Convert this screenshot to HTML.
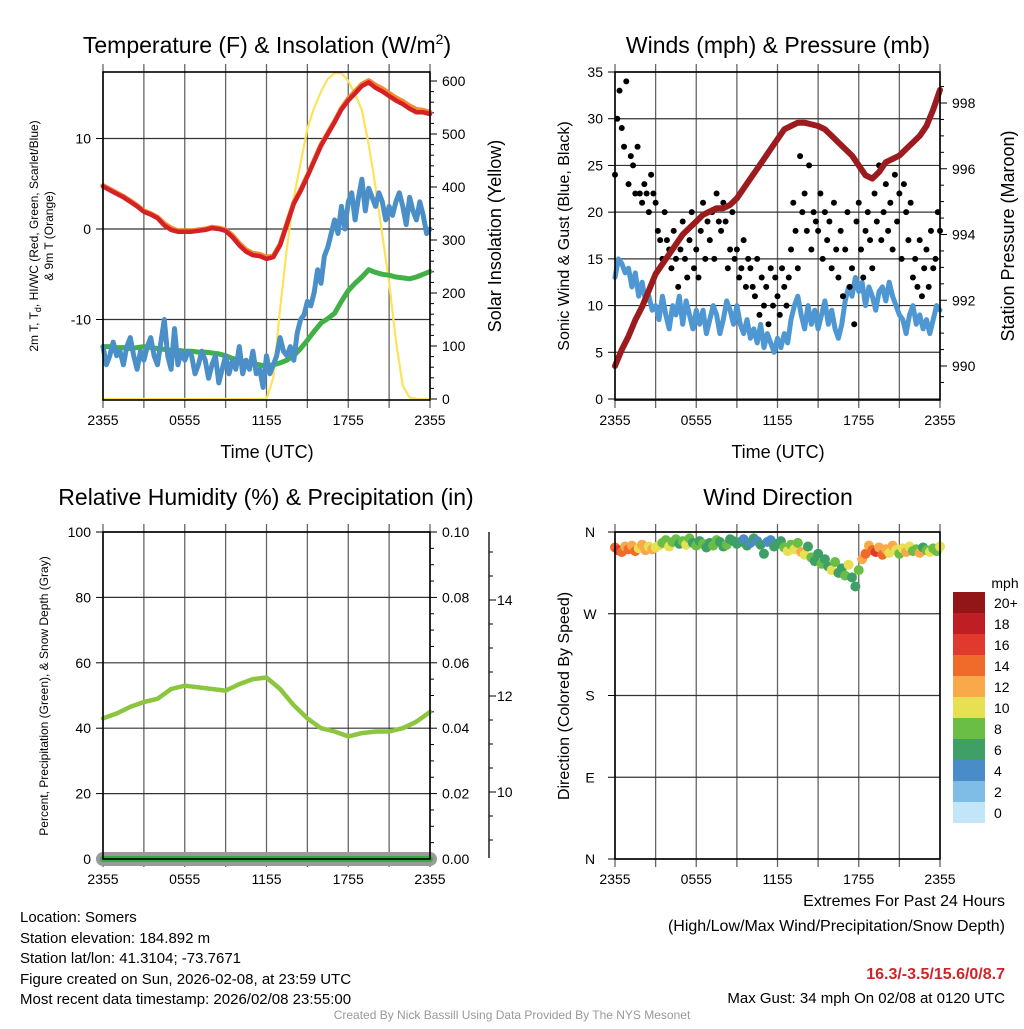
<!DOCTYPE html>
<html><head><meta charset="utf-8"><style>
html,body{margin:0;padding:0;background:#fff;}
svg text{font-family:"Liberation Sans",Arial,sans-serif;}
</style></head><body>
<svg id="fig" xmlns="http://www.w3.org/2000/svg" width="1024" height="1024" viewBox="0 0 1024 1024">
<rect width="1024" height="1024" fill="#fff"/>
<g font-size="23" text-anchor="middle" fill="#000">
<text x="267" y="53">Temperature (F) &amp; Insolation (W/m<tspan font-size="14" dy="-9">2</tspan><tspan dy="9">)</tspan></text>
<text x="778" y="53">Winds (mph) &amp; Pressure (mb)</text>
<text x="266" y="505">Relative Humidity (%) &amp; Precipitation (in)</text>
<text x="778" y="505">Wind Direction</text>
</g>
<g font-size="18" text-anchor="middle">
<text x="267" y="458">Time (UTC)</text>
<text x="778" y="458">Time (UTC)</text>
<text transform="translate(501,236) rotate(-90)">Solar Insolation (Yellow)</text>
<text transform="translate(1014,236) rotate(-90)">Station Pressure (Maroon)</text>
</g>
<g font-size="16" text-anchor="middle">
<text transform="translate(569,236) rotate(-90)">Sonic Wind &amp; Gust (Blue, Black)</text>
<text transform="translate(569,696) rotate(-90)">Direction (Colored By Speed)</text>
</g>
<g font-size="12" text-anchor="middle">
<text transform="translate(38,236) rotate(-90)">2m T, T<tspan font-size="9" dy="3">d</tspan><tspan dy="-3">, HI/WC (Red, Green, Scarlet/Blue)</tspan></text>
<text transform="translate(53,236) rotate(-90)">&amp; 9m T (Orange)</text>
<text transform="translate(48,696) rotate(-90)">Percent, Precipitation (Green), &amp; Snow Depth (Gray)</text>
</g>
<g id="layer"></g>
<g font-size="15" fill="#000">
<text x="20" y="922">Location: Somers</text>
<text x="20" y="943">Station elevation: 184.892 m</text>
<text x="20" y="963">Station lat/lon: 41.3104; -73.7671</text>
<text x="20" y="984">Figure created on Sun, 2026-02-08, at 23:59 UTC</text>
<text x="20" y="1004">Most recent data timestamp: 2026/02/08 23:55:00</text>
</g>
<g font-size="16" text-anchor="end">
<text x="1005" y="906">Extremes For Past 24 Hours</text>
<text x="1005" y="931">(High/Low/Max Wind/Precipitation/Snow Depth)</text>
<text x="1005" y="979" fill="#d2232a" font-weight="bold">16.3/-3.5/15.6/0/8.7</text>
<text x="1005" y="1003" font-size="15">Max Gust: 34 mph On 02/08 at 0120 UTC</text>
</g>
<text x="512" y="1019" font-size="12" fill="#999" text-anchor="middle">Created By Nick Bassill Using Data Provided By The NYS Mesonet</text>
</svg>
<script>
// ---------- DATA ----------
const xTickLabels=["2355","0555","1155","1755","2355"];
const tempRed=[4.7,4.3,3.9,3.5,3.0,2.5,1.9,1.6,1.2,0.4,-0.1,-0.3,-0.3,-0.3,-0.2,-0.1,0.1,0.0,-0.2,-0.9,-1.8,-2.5,-2.9,-3.0,-3.3,-3.1,-1.8,0.5,2.8,4.2,5.8,7.5,9.2,10.5,11.8,13.2,14.2,15.0,15.8,16.2,15.6,15.2,14.7,14.2,13.8,13.3,12.9,12.9,12.7];
const tempOrange=[4.8,4.4,4.0,3.6,3.1,2.6,2.0,1.7,1.3,0.6,0.1,-0.2,-0.2,-0.2,-0.1,0.0,0.2,0.1,-0.1,-0.7,-1.6,-2.3,-2.7,-2.8,-3.1,-3.0,-1.7,0.6,2.9,4.3,5.9,7.6,9.3,10.6,11.9,13.3,14.4,15.2,16.0,16.4,15.9,15.5,15.0,14.5,14.1,13.6,13.2,13.1,12.9];
const dewGreen=[-13.0,-13.0,-13.1,-13.1,-13.2,-13.1,-13.0,-13.1,-13.2,-13.3,-13.4,-13.4,-13.5,-13.5,-13.6,-13.6,-13.7,-13.8,-14.0,-14.3,-14.5,-14.7,-14.9,-15.0,-15.2,-15.0,-14.8,-14.5,-14.0,-13.2,-12.3,-11.3,-10.4,-9.9,-9.3,-8.0,-6.8,-6.0,-5.3,-4.5,-4.8,-5.0,-5.1,-5.3,-5.4,-5.5,-5.3,-5.0,-4.7];
const windChillBlue=[-13,-15,-14,-12.5,-14,-13.5,-15,-13,-12,-14,-15.5,-13.5,-14.5,
-13,-12,-14,-15,-12.5,-10,-14,-15.5,-11,-15,-13.5,-14.5,
-13.5,-14,-16,-15,-13.5,-14.5,-16.5,-15,-14,-17,-15.5,-14,
-16,-14.5,-15.5,-13,-16,-14.5,-15.5,-13.5,-16,-15.5,-17.5,-14,
-16,-15,-14,-12,-13.5,-14,-13,-14.5,-11.5,-10,-9.5,-8,
-8.5,-7,-4.5,-6,-3,-2,-0.5,1,-0.5,2.5,0,3,
4,1,3.5,5.5,2,4.5,3.5,2.5,4,3,1,2.5,
1.5,3,4,2.5,0.5,3.5,2,1,3,1.5,-0.5,0];
const solar=[0,0,0,0,0,0,0,0,0,0,0,0,0,0,0,0,0,0,0,0,0,0,0,0,0,40,170,285,380,445,510,550,580,604,615,615,600,575,545,480,400,310,220,110,25,3,0,0,0];
const windBlue=[13,15,14.5,13.5,14,12,13.5,11,12.5,10.5,11,9.5,10,
8.5,11,9,7.5,10,9,11,8,10.5,9,7.5,9.5,
8,9.5,7,8.5,10,9,7,8.5,10.5,9.5,8,10,
8,7,8.5,6.5,7.5,6,8,5.5,7,6,5,6.5,
5.5,7,6,8.5,10,11,9,7.5,10,8,9.5,7.5,
9,10.5,8,9.5,7.5,6.5,8,10.5,12,11,13,11.5,
12.5,10,12,11,9.5,11.5,12,10.5,12.5,11,10,9,
8.5,7,9,10,8,9,7.5,8.5,7,8.5,10,9.5];
const pressure=[990.0,990.5,990.9,991.4,991.8,992.3,992.8,993.1,993.4,993.7,994.0,994.2,994.4,994.6,994.7,994.8,994.8,994.9,995.1,995.4,995.7,996.0,996.3,996.6,996.9,997.2,997.3,997.4,997.4,997.35,997.3,997.2,997.0,996.8,996.6,996.4,996.1,995.8,995.7,995.9,996.2,996.3,996.4,996.6,996.8,997.0,997.3,997.8,998.4];
const gusts=[24,30,33,29,27,34, 23,26,25,22,27,22, 21,23,22,20,24,22, 21,18,17,15,20,17, 16,14,18,15,12,16, 19,15,13,17,20,14, 16,13,18,21,15,19, 17,20,15,22,19,18, 21,19,14,16,20,15, 16,13,14,17,12,15, 14,12,11,15,9,13, 10,12,8,14,10,13, 11,9,14,12,10,13, 16,21,18,14,26,20, 22,18,25,16,20,19, 18,22,15,20,17,19, 14,21,16,13,18,11, 16,20,12,14,8,19, 21,16,13,18,20,17, 14,22,19,25,17,20, 23,18,21,16,24,19, 22,15,23,20,17,21, 13,15,12,17,11,14, 16,12,18,14,15,20, 18];
const rh=[43,44.5,46.5,48,49,52,53,52.5,52,51.5,53.5,55,55.5,52,47,43,40,39,37.5,38.5,39,39,40,42,45];
const precip=[0,0,0,0,0,0,0,0,0,0,0,0,0,0,0,0,0,0,0,0,0,0,0,0,0];
const windDir=[343,340,338,344,341,345,339,342,346,340,344,341,343,
345,348,351,344,349,352,347,350,346,353,348,345,
350,347,343,348,345,351,349,344,346,352,350,347,
349,352,345,348,353,350,346,336,349,351,344,347,
350,343,339,346,341,348,338,335,344,332,328,336,
325,330,322,318,327,315,320,312,324,310,300,318,
330,336,345,340,338,343,335,341,337,345,340,336,
342,338,344,339,341,337,343,340,338,342,339,344];
const windSpd=[14,16,15,13,14,12,15,11,12,13,11,12,10,
11,9,8,10,9,8,7,9,10,8,7,8,
7,8,6,7,8,9,6,7,8,7,6,7,
6,5,7,4,6,5,7,6,4,5,7,6,
7,9,10,8,11,9,12,10,7,8,6,7,
8,6,7,10,9,7,6,8,10,6,7,8,
12,14,13,15,16,13,14,12,11,13,10,9,
11,12,10,8,9,12,7,8,11,9,8,10];
const speedLevels=["20+","18","16","14","12","10","8","6","4","2","0"];
const speedColors=["#921518","#be1e24","#e03a2e","#f06a2a","#f9a94a","#e6e052","#6abd45","#3fa067","#4a8cc8","#7fbde6","#c2e6f8"];
// ---------- HELPERS ----------
const NS="http://www.w3.org/2000/svg";
const layer=document.getElementById('layer');
function mk(tag,at,parent){const e=document.createElementNS(NS,tag);for(const k in at)e.setAttribute(k,at[k]);(parent||layer).appendChild(e);return e;}
function lin(d0,d1,r0,r1){return v=>r0+(v-d0)/(d1-d0)*(r1-r0);}
function pathFrom(vals,step,xs,ys){return vals.map((v,i)=>(i?'L':'M')+xs(i*step).toFixed(1)+','+ys(v).toFixed(1)).join('');}
function line(vals,step,xs,ys,color,w,name){const p=mk('path',{d:pathFrom(vals,step,xs,ys),fill:'none',stroke:color,'stroke-width':w,'stroke-linejoin':'round','stroke-linecap':'round'});

return p;}
function txt(x,y,s,anchor,size,name){const t=mk('text',{x:x,y:y,'text-anchor':anchor,'font-size':size});t.textContent=s;

return t;}
function frame(L,T,R,B,name){
 const g=mk('g',{});
 
 
 const xs=lin(0,24,L,R);
 for(let h=0;h<=24;h+=3){mk('line',{x1:xs(h),x2:xs(h),y1:T-8,y2:B+8,stroke:'#666','stroke-width':1.3},g);}
 xTickLabels.forEach((s,i)=>txt(xs(i*6),B+25,s,'middle',14,name+'-x-tick'));
 return {g,xs};
}
function hgrid(g,L,R,y){mk('line',{x1:L,x2:R,y1:y,y2:y,stroke:'#333','stroke-width':1.2},g);}
function border(L,T,R,B){mk('rect',{x:L,y:T,width:R-L,height:B-T,fill:'none',stroke:'#000','stroke-width':1.6});}

// ---------- PANEL 1 ----------
(function(){
 const L=103,T=72,R=430,B=400;
 const {g,xs}=frame(L,T,R,B,'temp-panel');
 const ys=lin(0,10,229,138.5), ysol=lin(0,600,399,81);
 [-10,0,10].forEach(v=>{hgrid(g,L,R,ys(v));mk('line',{x1:L-7,x2:L,y1:ys(v),y2:ys(v),stroke:'#000'});txt(L-12,ys(v)+5,String(v),'end',14,'temp-y-tick');});
 for(let v=0;v<=600;v+=20){const big=v%100==0;mk('line',{x1:R,x2:R+(big?7:4),y1:ysol(v),y2:ysol(v),stroke:'#000'});if(big)txt(R+12,ysol(v)+5,String(v),'start',14,'solar-y-tick');}
 line(solar,0.5,xs,ysol,'#fde25a',2.2,'solar-line');
 line(dewGreen,0.5,xs,ys,'#41b046',5,'dewpoint-line');
 line(windChillBlue,0.25,xs,ys,'#4a8fc8',5,'windchill-line');
 line(tempOrange,0.5,xs,ys,'#f58a33',5,'temp-9m-line');
 line(tempRed,0.5,xs,ys,'#d42126',4.5,'temp-2m-line');
 border(L,T,R,B);
})();
// ---------- PANEL 2 ----------
(function(){
 const L=615,T=72,R=940,B=400;
 const {g,xs}=frame(L,T,R,B,'wind-panel');
 const ys=lin(0,35,399,72), yp=lin(990,998,366,103);
 for(let v=0;v<=35;v+=5){hgrid(g,L,R,ys(v));mk('line',{x1:L-7,x2:L,y1:ys(v),y2:ys(v),stroke:'#000'});txt(L-12,ys(v)+5,String(v),'end',14,'wind-y-tick');}
 for(let v=989.5;v<=998.5;v+=0.5){const big=Math.abs(v%2)<0.01;mk('line',{x1:R,x2:R+(big?7:4),y1:yp(v),y2:yp(v),stroke:'#000'});if(big)txt(R+12,yp(v)+5,String(v),'start',14,'pressure-y-tick');}
 line(windBlue,0.25,xs,ys,'#4f97d2',5,'sustained-wind-line');
 gusts.forEach((v,i)=>{const c=mk('circle',{cx:xs(i/6),cy:ys(v),r:3,fill:'#000'});
  
  });
 line(pressure,0.5,xs,yp,'#9b1b1e',6,'pressure-line');
 border(L,T,R,B);
})();
// ---------- PANEL 3 ----------
(function(){
 const L=103,T=532,R=430,B=859;
 const {g,xs}=frame(L,T,R,B,'rh-panel');
 const ys=lin(0,100,859,532), ypr=lin(0,0.1,859,532);
 for(let v=0;v<=100;v+=20){hgrid(g,L,R,ys(v));mk('line',{x1:L-7,x2:L,y1:ys(v),y2:ys(v),stroke:'#000'});txt(L-12,ys(v)+5,String(v),'end',14,'rh-y-tick');}
 for(let v=0;v<=0.1001;v+=0.005){const big=Math.round(v*1000)%20==0;mk('line',{x1:R,x2:R+(big?7:4),y1:ypr(v),y2:ypr(v),stroke:'#000'});if(big)txt(R+12,ypr(v)+5,v.toFixed(2),'start',14,'precip-y-tick');}
 const ysn=lin(10,12,792,696);
 mk('line',{x1:489,x2:489,y1:532,y2:858,stroke:'#000','stroke-width':1.3});
 for(let v=8.5;v<=15.2;v+=0.5){const y=ysn(v);if(y<532||y>858)continue;const big=Math.abs(v%2)<0.01;mk('line',{x1:489,x2:489+(big?7:4),y1:y,y2:y,stroke:'#000'});if(big)txt(497,y+5,String(v),'start',14,'snow-y-tick');}
 const sn=line(precip,1,xs,ys,'#9a9a9a',14,'snow-depth-line');
 line(rh,1,xs,ys,'#8cc63f',4.5,'rh-line');
 line(precip,1,xs,ypr,'#3aaa48',6,'precip-line');
 border(L,T,R,B);
})();
// ---------- PANEL 4 ----------
(function(){
 const L=615,T=532,R=940,B=859;
 const {g,xs}=frame(L,T,R,B,'dir-panel');
 const ys=lin(0,360,859,532);
 const lab=['N','E','S','W','N'];
 [0,90,180,270,360].forEach((v,i)=>{hgrid(g,L,R,ys(v));mk('line',{x1:L-7,x2:L,y1:ys(v),y2:ys(v),stroke:'#000'});txt(590,ys(v)+5,lab[i],'middle',14,'dir-y-tick');});
 function col(s){let idx=10-Math.min(10,Math.floor(s/2));return speedColors[idx];}
 windDir.forEach((d,i)=>{const c=mk('circle',{cx:xs(i*0.25),cy:ys(d),r:5,fill:col(windSpd[i])});
  
  });
 border(L,T,R,B);
 txt(1005,588,'mph','middle',14,'colorbar-title');
 speedLevels.forEach((s,i)=>{const r=mk('rect',{x:953,y:592+i*21,width:32,height:21,fill:speedColors[i]});
  
  
  txt(994,608+i*21,s,'start',14,'colorbar-label');});
})();
</script>
</body></html>
